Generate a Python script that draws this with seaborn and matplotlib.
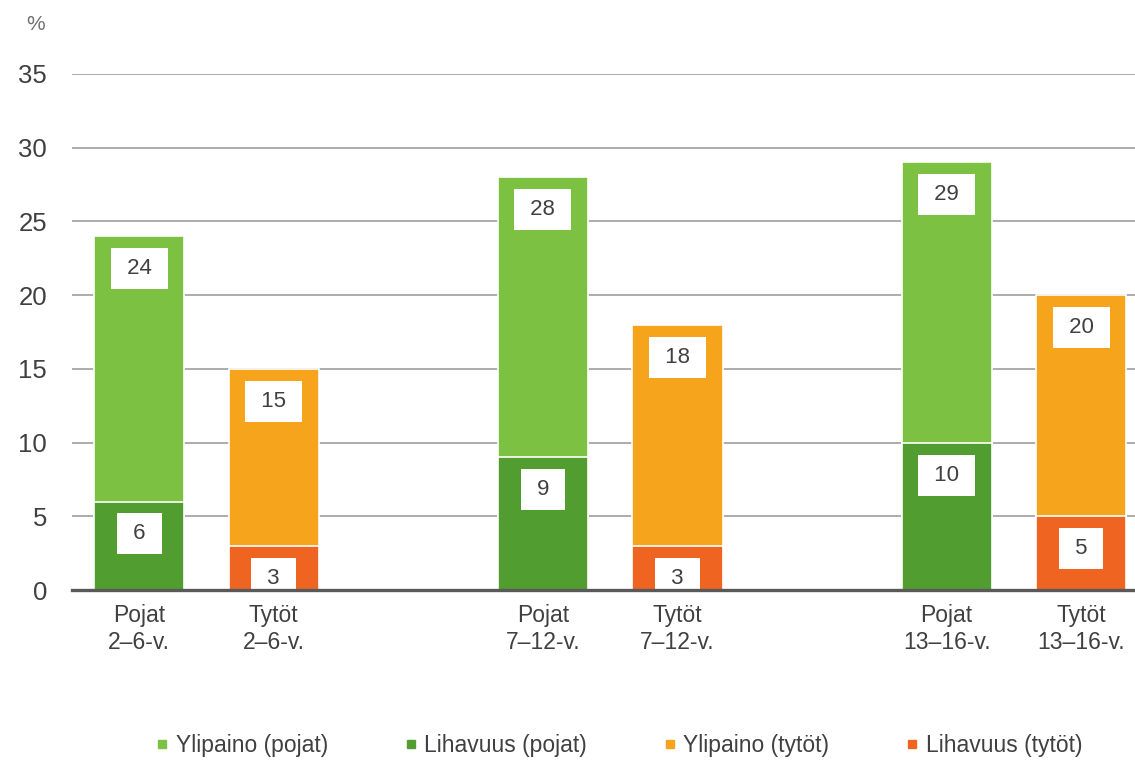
import pandas as pd
import matplotlib.pyplot as plt
import seaborn as sns
from matplotlib.lines import Line2D

# data (%)
ikaryhmat = ['2–6-v.', '7–12-v.', '13–16-v.']
sukupuolet = ['Pojat', 'Tytöt']
ylipaino_pojat = [24, 28, 29]
lihavuus_pojat = [6, 9, 10]
ylipaino_tytot = [15, 18, 20]
lihavuus_tytot = [3, 3, 5]

sarjat = ['Ylipaino (pojat)', 'Lihavuus (pojat)', 'Ylipaino (tytöt)', 'Lihavuus (tytöt)']
varit = {'Ylipaino (pojat)': '#7dc142', 'Lihavuus (pojat)': '#519d2f',
         'Ylipaino (tytöt)': '#f6a41c', 'Lihavuus (tytöt)': '#ef6420'}

rows = []
for g, ika in enumerate(ikaryhmat):
    for s, sp in enumerate(sukupuolet):
        yli = ylipaino_pojat[g] if s == 0 else ylipaino_tytot[g]
        lih = lihavuus_pojat[g] if s == 0 else lihavuus_tytot[g]
        rows.append({'pos': 3 * g + s, 'label': f'{sp}\n{ika}',
                     'ylipaino': yli, 'lihavuus': lih,
                     'sarja_yli': sarjat[2 * s], 'sarja_lih': sarjat[2 * s + 1]})
df = pd.DataFrame(rows)

sns.set_theme(style='white')
plt.rcParams['font.family'] = ['Liberation Sans', 'DejaVu Sans']
tekstivari = '#404040'

fig = plt.figure(figsize=(11.35, 7.62), dpi=100)
ax = fig.add_axes([0.0634, 0.2257, 0.9366, 0.6772])
ax.set_axisbelow(True)

sns.barplot(data=df, x='pos', y='ylipaino', hue='sarja_yli', palette=varit,
            native_scale=True, dodge=False, width=0.67, legend=False, saturation=1,
            edgecolor='white', linewidth=1.2, ax=ax)
sns.barplot(data=df, x='pos', y='lihavuus', hue='sarja_lih', palette=varit,
            native_scale=True, dodge=False, width=0.67, legend=False, saturation=1,
            edgecolor='white', linewidth=1.2, ax=ax)

# value boxes
for _, r in df.iterrows():
    for v in (r['ylipaino'], r['lihavuus']):
        ax.text(r['pos'], v - 2.2, f' {v} ', ha='center', va='center',
                fontsize=16, color=tekstivari, zorder=5,
                bbox=dict(boxstyle='square,pad=0.45', facecolor='white', edgecolor='none'))

ax.set_xlim(-0.5, 7.4)
ax.set_ylim(0, 35)
ax.set_yticks(range(0, 36, 5))
ax.yaxis.grid(True, color='#a6a6a6', linewidth=1.3)
ax.set_xticks(df['pos'])
ax.set_xticklabels(df['label'], fontsize=16.5, color=tekstivari, linespacing=1.2)
ax.tick_params(axis='x', length=0, pad=10)
ax.tick_params(axis='y', length=0, pad=18, labelsize=18.5, labelcolor=tekstivari)
ax.set_xlabel('')
ax.set_ylabel('')
for side in ['top', 'right', 'left']:
    ax.spines[side].set_visible(False)
ax.spines['bottom'].set_color('#595959')
ax.spines['bottom'].set_linewidth(2.4)
ax.spines['bottom'].set_zorder(6)

fig.text(0.031, 1 - 24 / 762, '%', ha='center', va='center', fontsize=15, color='#707070')

handles = [Line2D([], [], marker='s', linestyle='none', markersize=6,
                  color=varit[s]) for s in sarjat]
fig.legend(handles, sarjat, loc='center', bbox_to_anchor=(0.545, 0.022), ncol=4,
           frameon=False, fontsize=16.5, handlelength=0.6, handletextpad=0.3,
           columnspacing=3.3, labelcolor=tekstivari)

fig.savefig('out.png', dpi=100)
